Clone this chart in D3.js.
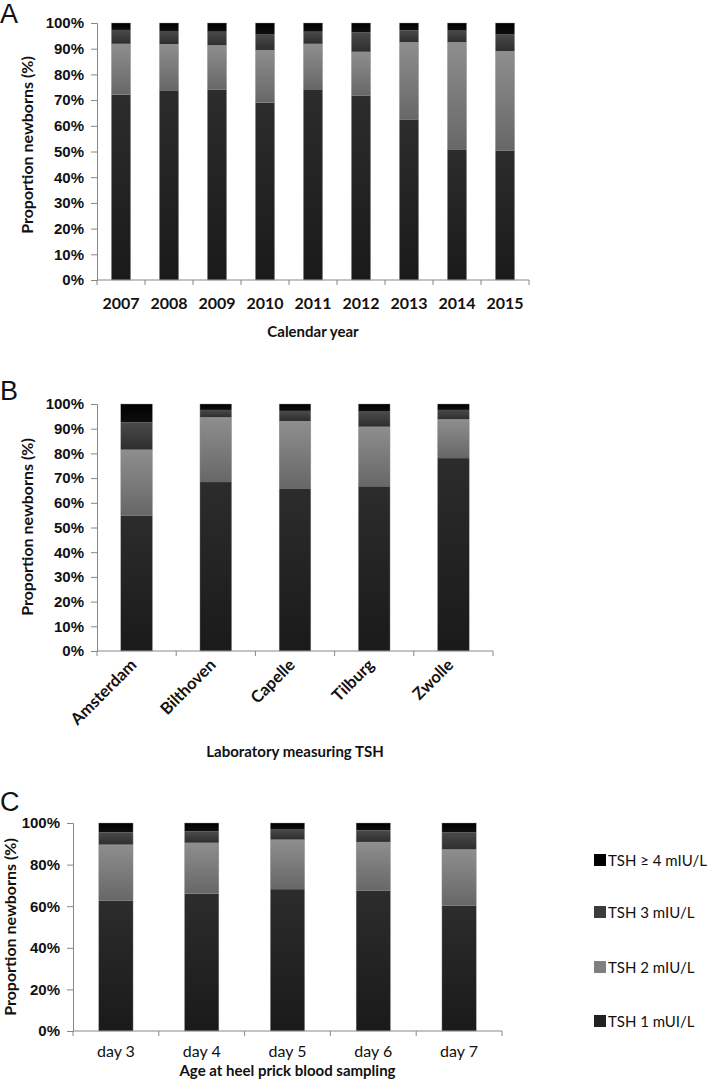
<!DOCTYPE html>
<html>
<head>
<meta charset="utf-8">
<script src="https://cdn.jsdelivr.net/npm/d3@7"></script>
<style>
  html, body { margin: 0; padding: 0; background: #fff; }
  svg { display: block; font-family: Lato, "Open Sans", sans-serif; }
</style>
</head>
<body>
<svg id="chart" width="709" height="1089"></svg>
<script>
// ---- Data ----
const seriesNames = ["TSH 1 mUI/L", "TSH 2 mIU/L", "TSH 3 mIU/L", "TSH \u2265 4 mIU/L"];

const yearsA = ["2007", "2008", "2009", "2010", "2011", "2012", "2013", "2014", "2015"];
const tsh1A = [72.1, 73.8, 74.0, 69.0, 74.2, 71.8, 62.3, 50.6, 50.4];
const tsh2A = [19.8, 18.0, 17.3, 20.5, 17.7, 17.0, 30.2, 41.9, 38.7];
const tsh3A = [5.4, 5.1, 5.3, 6.2, 4.7, 7.6, 4.6, 4.5, 6.4];
const tsh4A = [2.7, 3.1, 3.4, 4.3, 3.4, 3.6, 2.9, 3.0, 4.5];

const labsB = ["Amsterdam", "Bilthoven", "Capelle", "Tilburg", "Zwolle"];
const tsh1B = [54.9, 68.4, 65.6, 66.7, 78.1];
const tsh2B = [26.6, 26.2, 27.5, 24.1, 15.7];
const tsh3B = [11.1, 3.0, 4.1, 6.1, 3.8];
const tsh4B = [7.4, 2.4, 2.8, 3.1, 2.4];

const daysC = ["day 3", "day 4", "day 5", "day 6", "day 7"];
const tsh1C = [62.6, 66.0, 68.2, 67.4, 60.2];
const tsh2C = [27.0, 24.5, 23.8, 23.5, 27.1];
const tsh3C = [5.9, 5.5, 4.8, 5.6, 8.2];
const tsh4C = [4.5, 4.0, 3.2, 3.5, 4.5];

const ticksAB = [0, 10, 20, 30, 40, 50, 60, 70, 80, 90, 100];
const ticksC = [0, 20, 40, 60, 80, 100];

// ---- Styles ----
const grads = [
  ["#2c2c2c", "#1a1a1a"],
  ["#8e8e8e", "#676767"],
  ["#4a4a4a", "#2e2e2e"],
  ["#000000", "#0e0e0e"]
];
const legendColors = ["#222222", "#7f7f7f", "#3c3c3c", "#000000"];
const axisColor = "#888888";

const svg = d3.select("#chart");
const defs = svg.append("defs");
grads.forEach((g, i) => {
  const lg = defs.append("linearGradient").attr("id", "g" + i)
    .attr("x1", 0).attr("y1", 0).attr("x2", 0).attr("y2", 1);
  lg.append("stop").attr("offset", "0%").attr("stop-color", g[0]);
  lg.append("stop").attr("offset", "100%").attr("stop-color", g[1]);
});

function buildRows(cats, s1, s2, s3, s4) {
  return cats.map((c, i) => ({ cat: c, s0: s1[i], s1: s2[i], s2: s3[i], s3: s4[i] }));
}

function drawPanel(opt) {
  const rows = buildRows(opt.cats, opt.s[0], opt.s[1], opt.s[2], opt.s[3]);
  const x = d3.scaleBand().domain(opt.cats).range([opt.x0, opt.x1]).paddingInner(0.6).paddingOuter(0.3);
  const xb = d3.scaleBand().domain(opt.cats).range([opt.x0, opt.x1]);
  const y = d3.scaleLinear().domain([0, 100]).range([opt.y0, opt.y1]);
  const stack = d3.stack().keys(["s0", "s1", "s2", "s3"]);
  const stacked = stack(rows);
  const g = svg.append("g");

  stacked.forEach((layer, li) => {
    g.append("g").selectAll("rect").data(layer).join("rect")
      .attr("x", d => x(d.data.cat))
      .attr("width", x.bandwidth())
      .attr("y", d => y(Math.min(100, d[1])))
      .attr("height", d => y(d[0]) - y(Math.min(100, d[1])))
      .attr("fill", "url(#g" + li + ")");
  });
  g.append("g").selectAll("rect").data(rows).join("rect")
    .attr("x", d => x(d.cat)).attr("width", x.bandwidth())
    .attr("y", y(100)).attr("height", y(0) - y(100))
    .attr("fill", "none").attr("stroke", "#9a9a9a").attr("stroke-width", 0.4);

  // y axis
  const ya = g.append("g").attr("transform", `translate(${opt.x0},0)`)
    .call(d3.axisLeft(y).tickValues(opt.ticks).tickFormat(d => d + "%").tickSize(6).tickPadding(7));
  ya.select(".domain").attr("stroke", axisColor);
  ya.selectAll(".tick line").attr("stroke", axisColor);
  ya.selectAll("text").attr("fill", "#111").attr("font-size", opt.tickFont).attr("font-weight", "bold");

  // x axis line + boundary ticks
  g.append("line").attr("x1", opt.x0).attr("x2", opt.x1).attr("y1", opt.y0).attr("y2", opt.y0)
    .attr("stroke", axisColor);
  const bounds = opt.cats.map(c => xb(c)).concat([opt.x1]);
  g.append("g").selectAll("line").data(bounds).join("line")
    .attr("x1", d => d).attr("x2", d => d).attr("y1", opt.y0).attr("y2", opt.y0 + 5)
    .attr("stroke", axisColor);

  // category labels
  if (opt.rotate) {
    g.append("g").selectAll("text").data(opt.cats).join("text")
      .attr("transform", d => `translate(${x(d) + x.bandwidth() / 2 + 1},${opt.y0 + 15}) rotate(-45)`)
      .attr("text-anchor", "end").attr("font-size", opt.catFont).attr("font-weight", "bold")
      .attr("fill", "#111").text(d => d);
  } else {
    g.append("g").selectAll("text").data(opt.cats).join("text")
      .attr("x", d => x(d) + x.bandwidth() / 2).attr("y", opt.catY)
      .attr("text-anchor", "middle").attr("font-size", opt.catFont)
      .attr("font-weight", opt.catWeight).attr("fill", "#111").text(d => d);
  }

  // x title
  g.append("text").attr("x", (opt.x0 + opt.x1) / 2).attr("y", opt.titleY)
    .attr("text-anchor", "middle").attr("font-size", 15).attr("font-weight", "bold")
    .attr("fill", "#111").text(opt.xTitle);

  // y title
  g.append("text").attr("transform", `translate(${opt.yTitleX},${opt.yTitleY}) rotate(-90)`)
    .attr("text-anchor", "middle").attr("font-size", opt.yTitleFont).attr("font-weight", "bold")
    .attr("fill", "#111").text("Proportion newborns (%)");

  // panel letter
  svg.append("text").attr("x", 0).attr("y", opt.letterY).attr("font-size", 27)
    .attr("font-family", "'Liberation Sans', Arial, sans-serif").attr("fill", "#111").text(opt.letter);
}

drawPanel({
  letter: "A", letterY: 23,
  cats: yearsA, s: [tsh1A, tsh2A, tsh3A, tsh4A],
  x0: 97, x1: 529, y0: 280, y1: 23, ticks: ticksAB, tickFont: 15,
  catY: 309, catFont: 16, catWeight: "bold",
  xTitle: "Calendar year", titleY: 337,
  yTitleX: 33, yTitleY: 145, yTitleFont: 16
});

drawPanel({
  letter: "B", letterY: 400,
  cats: labsB, s: [tsh1B, tsh2B, tsh3B, tsh4B],
  x0: 97, x1: 493, y0: 651, y1: 404, ticks: ticksAB, tickFont: 15,
  rotate: true, catFont: 16.5,
  xTitle: "Laboratory measuring TSH", titleY: 757,
  yTitleX: 33, yTitleY: 527, yTitleFont: 16
});

drawPanel({
  letter: "C", letterY: 811,
  cats: daysC, s: [tsh1C, tsh2C, tsh3C, tsh4C],
  x0: 73, x1: 502, y0: 1031, y1: 823, ticks: ticksC, tickFont: 15,
  catY: 1057, catFont: 16, catWeight: "normal",
  xTitle: "Age at heel prick blood sampling", titleY: 1076,
  yTitleX: 16, yTitleY: 927, yTitleFont: 16
});

// legend
const legendOrder = [3, 2, 1, 0];
const legendY = [860, 912, 967, 1021];
const lg = svg.append("g");
legendOrder.forEach((si, i) => {
  lg.append("rect").attr("x", 594).attr("y", legendY[i] - 6).attr("width", 12).attr("height", 12)
    .attr("fill", legendColors[si]);
  lg.append("text").attr("x", 608).attr("y", legendY[i] + 6).attr("font-size", 15)
    .attr("fill", "#111").text(seriesNames[si]);
});
</script>
</body>
</html>
